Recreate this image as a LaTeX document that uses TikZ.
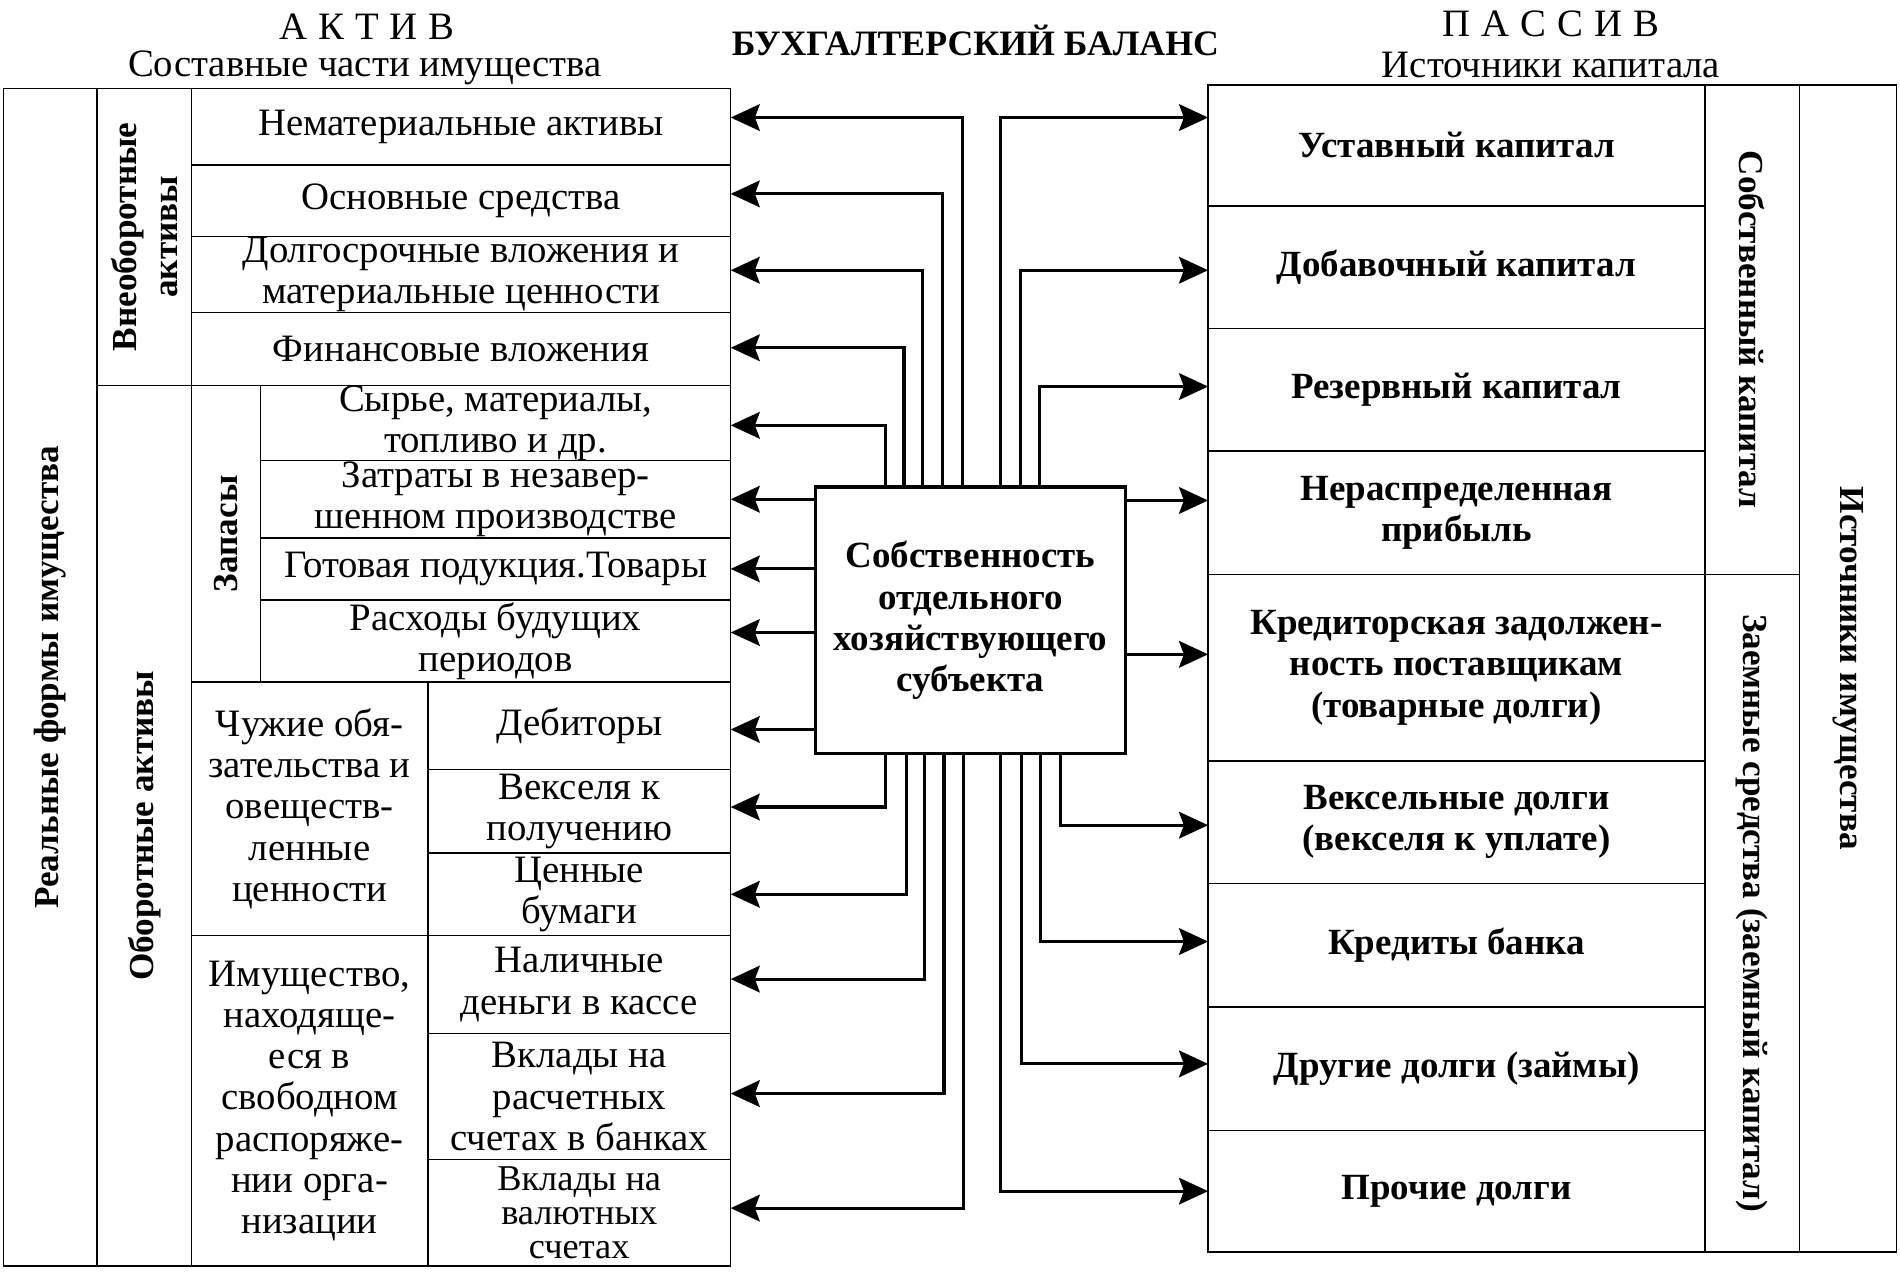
\documentclass[tikz,border=0pt]{standalone}
\usepackage{fontspec}
\setmainfont{Liberation Serif}
\usetikzlibrary{arrows.meta}
\tikzset{
  cell/.style={draw, line width=1.3pt, inner sep=0pt, outer sep=0pt, align=center,
    font=\fontsize{32pt}{34pt}\selectfont},
  rcell/.style={cell, font=\fontsize{30.5pt}{34pt}\selectfont\bfseries},
  tightcell/.style={cell, font=\fontsize{30pt}{28pt}\selectfont},
  vlab/.style={inner sep=0pt, align=center, font=\fontsize{29pt}{34pt}\selectfont\bfseries},
  hdr/.style={inner sep=0pt, font=\fontsize{32pt}{34pt}\selectfont},
  conn/.style={line width=2.6pt, -{Stealth[length=24pt,width=22pt,inset=4pt]}},
  centerbox/.style={draw, line width=2.8pt, inner sep=0pt, align=center,
    font=\fontsize{30.5pt}{34pt}\selectfont\bfseries}
}
\newcommand\mkcell[7]{\node[#7, minimum width={(#4-#2)*1pt}, minimum height={(#5-#3)*1pt}] (#1) at ({(#2+#4)/2},{(#3+#5)/2}) {#6};}
\begin{document}
\begin{tikzpicture}[x=1pt,y=-1pt]
\useasboundingbox (0,0) rectangle (1568,1049);
% headers
\node[hdr] (aktiv) at (303,22) {А\hspace{9pt}К\hspace{9pt}Т\hspace{9pt}И\hspace{9pt}В};
\node[hdr] (aktivsub) at (301,56) {Составные части имущества};
\node[hdr, font=\fontsize{29.5pt}{34pt}\selectfont\bfseries] (title) at (805,33) {БУХГАЛТЕРСКИЙ БАЛАНС};
\node[hdr] (passiv) at (1280,20) {П\hspace{9pt}А\hspace{9pt}С\hspace{9pt}С\hspace{9pt}И\hspace{9pt}В};
\node[hdr] (passivsub) at (1280,54) {Источники капитала};
% left block
\mkcell{real}{3}{73}{80}{1045}{}{cell}
\mkcell{vneob}{80}{73}{158}{318}{}{cell}
\mkcell{obor}{80}{318}{158}{1045}{}{cell}
\mkcell{zap}{158}{318}{215}{563}{}{cell}
\mkcell{chuzh}{158}{563}{353}{772}{Чужие обя-\\зательства и\\овеществ-\\ленные\\ценности}{cell}
\mkcell{imush}{158}{772}{353}{1045}{Имущество,\\находяще-\\еся в\\свободном\\распоряже-\\нии орга-\\низации}{cell}
\mkcell{nem}{158}{73}{603}{136}{Нематериальные активы}{cell}
\mkcell{osn}{158}{136}{603}{195}{Основные средства}{cell}
\mkcell{dolg}{158}{195}{603}{258}{Долгосрочные вложения и\\материальные ценности}{cell}
\mkcell{fin}{158}{258}{603}{318}{Финансовые вложения}{cell}
\mkcell{syr}{215}{318}{603}{380}{Сырье, материалы,\\топливо и др.}{cell}
\mkcell{zatr}{215}{380}{603}{444}{Затраты в незавер-\\шенном производстве}{cell}
\mkcell{got}{215}{444}{603}{495}{Готовая подукция.Товары}{cell}
\mkcell{rash}{215}{495}{603}{563}{Расходы будущих\\периодов}{cell}
\mkcell{deb}{353}{563}{603}{635}{Дебиторы}{cell}
\mkcell{veks}{353}{635}{603}{704}{Векселя к\\получению}{cell}
\mkcell{cen}{353}{704}{603}{772}{Ценные\\бумаги}{cell}
\mkcell{nal}{353}{772}{603}{853}{Наличные\\деньги в кассе}{cell}
\mkcell{vkr}{353}{853}{603}{957}{Вклады на\\расчетных\\счетах в банках}{cell}
\mkcell{vkv}{353}{957}{603}{1045}{Вклады на\\валютных\\счетах}{tightcell}
\node[vlab, rotate=90] (realt) at (real.center) {Реальные формы имущества};
\node[vlab, rotate=90] (vneobt) at (vneob.center) {Внеоборотные\\активы};
\node[vlab, rotate=90] (obort) at (obor.center) {Оборотные активы};
\node[vlab, rotate=90] (zapt) at (zap.center) {Запасы};
% right block
\mkcell{ust}{997}{70}{1407}{170}{Уставный капитал}{rcell}
\mkcell{dob}{997}{170}{1407}{271}{Добавочный капитал}{rcell}
\mkcell{rez}{997}{271}{1407}{372}{Резервный капитал}{rcell}
\mkcell{ner}{997}{372}{1407}{474}{Нераспределенная\\прибыль}{rcell}
\mkcell{kred}{997}{474}{1407}{628}{Кредиторская задолжен-\\ность поставщикам\\(товарные долги)}{rcell}
\mkcell{veksd}{997}{628}{1407}{729}{Вексельные долги\\(векселя к уплате)}{rcell}
\mkcell{kb}{997}{729}{1407}{831}{Кредиты банка}{rcell}
\mkcell{dr}{997}{831}{1407}{933}{Другие долги (займы)}{rcell}
\mkcell{pr}{997}{933}{1407}{1033}{Прочие долги}{rcell}
\mkcell{sobst}{1407}{70}{1485}{474}{}{cell}
\mkcell{zaem}{1407}{474}{1485}{1033}{}{cell}
\mkcell{ist}{1485}{70}{1565}{1033}{}{cell}
\node[vlab, rotate=-90] (sobstt) at (sobst.center) {Собственный капитал};
\node[vlab, rotate=-90] (zaemt) at (zaem.center) {Заемные средства (заемный капитал)};
\node[vlab, rotate=-90] (istt) at (ist.center) {Источники имущества};
% center box
\mkcell{cb}{673}{402}{929}{622}{Собственность\\отдельного\\хозяйствующего\\субъекта}{centerbox}
% left connectors from top
\draw[conn] ([xshift=-7pt]cb.north) |- ([yshift=7.5pt]nem.east);
\draw[conn] ([xshift=-23pt]cb.north) |- ([yshift=5.5pt]osn.east);
\draw[conn] ([xshift=-40pt]cb.north) |- ([yshift=3.5pt]dolg.east);
\draw[conn] ([xshift=-55pt]cb.north) |- ([yshift=1pt]fin.east);
\draw[conn] ([xshift=-70pt]cb.north) |- ([yshift=-2pt]syr.east);
% left connectors from side
\draw[conn] (zatr.east -| cb.west) -- (zatr.east);
\draw[conn] (got.east -| cb.west) -- (got.east);
\draw[conn] ([yshift=7pt]rash.east -| cb.west) -- ([yshift=7pt]rash.east);
\draw[conn] ([yshift=-3pt]deb.east -| cb.west) -- ([yshift=-3pt]deb.east);
% left connectors from bottom
\draw[conn] ([xshift=-70pt]cb.south) |- ([yshift=3.5pt]veks.east);
\draw[conn] ([xshift=-53pt]cb.south) |- (cen.east);
\draw[conn] ([xshift=-38pt]cb.south) |- ([yshift=4.5pt]nal.east);
\draw[conn] ([xshift=-22pt]cb.south) |- ([yshift=2.5pt]vkr.east);
\draw[conn] ([xshift=-6pt]cb.south) |- ([yshift=4pt]vkv.east);
% right connectors
\draw[conn] ([xshift=25pt]cb.north) |- ([yshift=23pt]ust.west);
\draw[conn] ([xshift=41pt]cb.north) |- ([yshift=-2.5pt]dob.west);
\draw[conn] ([xshift=57pt]cb.north) |- ([yshift=2.5pt]rez.west);
\draw[conn] ([yshift=10pt]ner.west -| cb.east) -- ([yshift=10pt]ner.west);
\draw[conn] ([yshift=11pt]kred.west -| cb.east) -- ([yshift=11pt]kred.west);
\draw[conn] ([xshift=74pt]cb.south) |- ([yshift=-2.5pt]veksd.west);
\draw[conn] ([xshift=58pt]cb.south) |- ([yshift=3pt]kb.west);
\draw[conn] ([xshift=42pt]cb.south) |- ([yshift=4pt]dr.west);
\draw[conn] ([xshift=25pt]cb.south) |- (pr.west);
\end{tikzpicture}
\end{document}
